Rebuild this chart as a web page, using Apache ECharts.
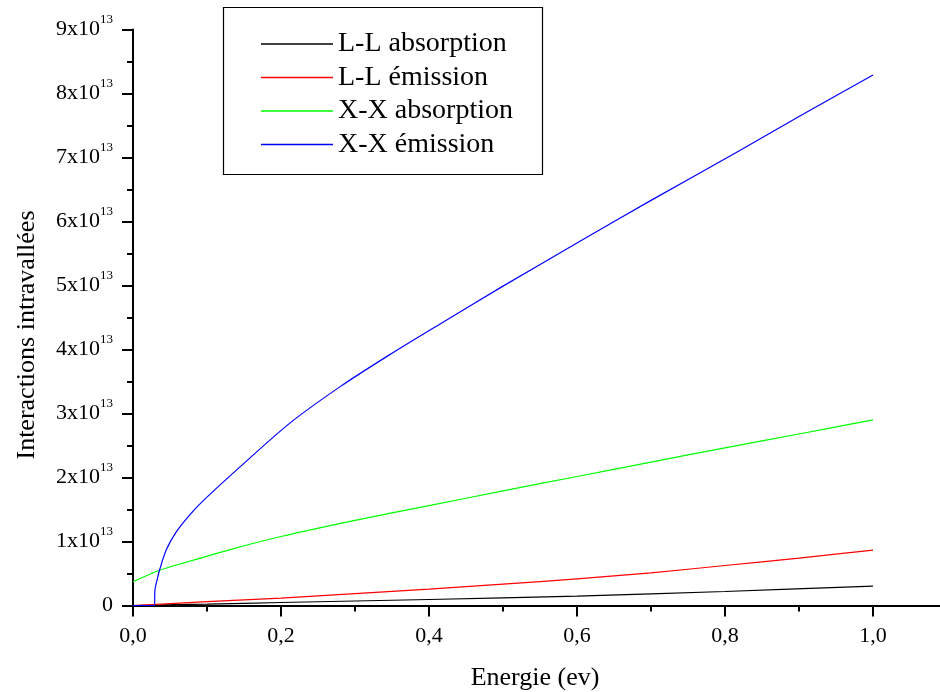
<!DOCTYPE html>
<html>
<head>
<meta charset="utf-8">
<script src="https://cdn.jsdelivr.net/npm/echarts@6/dist/echarts.min.js"></script>
<style>
  html, body { margin: 0; padding: 0; background: #ffffff; }
  #chart { width: 940px; height: 692px; }
</style>
</head>
<body>
<div id="chart"></div>
<script>
// Energy (eV) and intravalley interaction rates, in units of 10^13
const seriesNames = ['L-L absorption', 'L-L émission', 'X-X absorption', 'X-X émission'];
const seriesColors = ['#000000', '#ff0000', '#00ff00', '#0000ff'];

const llAbsX = [0, 0.1, 0.2, 0.4, 0.6, 0.8, 1.0];
const llAbsY = [0, 0.022, 0.047, 0.094, 0.148, 0.219, 0.303];

const llEmX = [0, 0.1, 0.2, 0.3, 0.4, 0.5, 0.6, 0.7, 0.8, 0.9, 1.0];
const llEmY = [0, 0.06, 0.115, 0.185, 0.256, 0.333, 0.417, 0.51, 0.625, 0.74, 0.865];

const xxAbsX = [0, 0.036, 0.07, 0.135, 0.2, 0.3, 0.4, 0.5, 0.6, 0.7, 0.8, 0.9, 1.0];
const xxAbsY = [0.37, 0.55, 0.67, 0.886, 1.078, 1.33, 1.56, 1.79, 2.016, 2.24, 2.464, 2.68, 2.90];

const xxEmX = [0, 0.029, 0.0297, 0.033, 0.036, 0.045, 0.0585, 0.077, 0.096, 0.145, 0.212, 0.28, 0.347, 0.415, 0.5, 0.604, 0.7, 0.82, 0.9, 1.0];
const xxEmY = [0, 0, 0.245, 0.42, 0.558, 0.87, 1.15, 1.42, 1.65, 2.17, 2.85, 3.42, 3.92, 4.40, 4.99, 5.69, 6.33, 7.11, 7.64, 8.29];

const xTicks = { min: 0, max: 1.2, step: 0.2 };
const yTicks = { min: 0, max: 9, step: 1 };

const FONT = '"Liberation Serif", "Times New Roman", serif';

function pairs(xs, ys) {
  return xs.map((x, i) => [x, ys[i]]);
}

const seriesData = [
  pairs(llAbsX, llAbsY),
  pairs(llEmX, llEmY),
  pairs(xxAbsX, xxAbsY),
  pairs(xxEmX, xxEmY)
];

const chart = echarts.init(document.getElementById('chart'), null, { renderer: 'canvas' });

const axisLineStyle = { color: '#000000', width: 2 };

chart.setOption({
  backgroundColor: '#ffffff',
  animation: false,
  grid: {
    left: 133,
    top: 29.5,
    width: 888,
    height: 576,
    containLabel: false,
    outerBoundsMode: 'none'
  },
  xAxis: {
    type: 'value',
    min: xTicks.min,
    max: xTicks.max,
    interval: xTicks.step,
    splitLine: { show: false },
    axisLine: { show: true, lineStyle: axisLineStyle },
    axisTick: { show: true, inside: false, length: 11, lineStyle: axisLineStyle },
    minorTick: { show: true, splitNumber: 2, length: 6, lineStyle: axisLineStyle },
    axisLabel: {
      margin: 20,
      color: '#000000',
      fontFamily: FONT,
      fontSize: 22,
      formatter: v => v.toFixed(1).replace('.', ',')
    }
  },
  yAxis: {
    type: 'value',
    min: yTicks.min,
    max: yTicks.max,
    interval: yTicks.step,
    splitLine: { show: false },
    axisLine: { show: true, lineStyle: axisLineStyle },
    axisTick: { show: true, inside: false, length: 11, lineStyle: axisLineStyle },
    minorTick: { show: true, splitNumber: 2, length: 6, lineStyle: axisLineStyle },
    axisLabel: {
      margin: 20,
      color: '#000000',
      formatter: v => v === 0 ? '{b|0}' : '{b|' + v + 'x10}{s|13}',
      rich: {
        b: { fontFamily: FONT, fontSize: 22, lineHeight: 22, color: '#000000' },
        s: { fontFamily: FONT, fontSize: 13, lineHeight: 13, padding: [0, 0, 19, 0], color: '#000000' }
      }
    }
  },
  legend: {
    orient: 'vertical',
    left: 256,
    top: 25,
    itemWidth: 72,
    itemHeight: 1.5,
    itemGap: 5.5,
    icon: 'rect',
    selectedMode: false,
    data: seriesNames,
    textStyle: { fontFamily: FONT, fontSize: 28, lineHeight: 28, color: '#000000' }
  },
  graphic: [
    {
      type: 'rect',
      shape: { x: 223.5, y: 7.5, width: 319, height: 167 },
      style: { fill: 'none', stroke: '#000000', lineWidth: 1.2 },
      z: 10
    },
    {
      type: 'text',
      x: 535,
      y: 678,
      style: {
        text: 'Energie (ev)',
        fontFamily: FONT,
        fontSize: 26,
        fill: '#000000',
        textAlign: 'center',
        textVerticalAlign: 'middle'
      }
    },
    {
      type: 'text',
      x: 27,
      y: 335,
      rotation: Math.PI / 2,
      style: {
        text: 'Interactions intravallées',
        fontFamily: FONT,
        fontSize: 26,
        fill: '#000000',
        textAlign: 'center',
        textVerticalAlign: 'middle'
      }
    }
  ],
  series: seriesNames.map((name, i) => ({
    name: name,
    type: 'line',
    data: seriesData[i],
    showSymbol: false,
    smooth: 0.3,
    color: seriesColors[i],
    lineStyle: { color: seriesColors[i], width: 1.2 },
    emphasis: { disabled: true }
  }))
});
</script>
</body>
</html>
